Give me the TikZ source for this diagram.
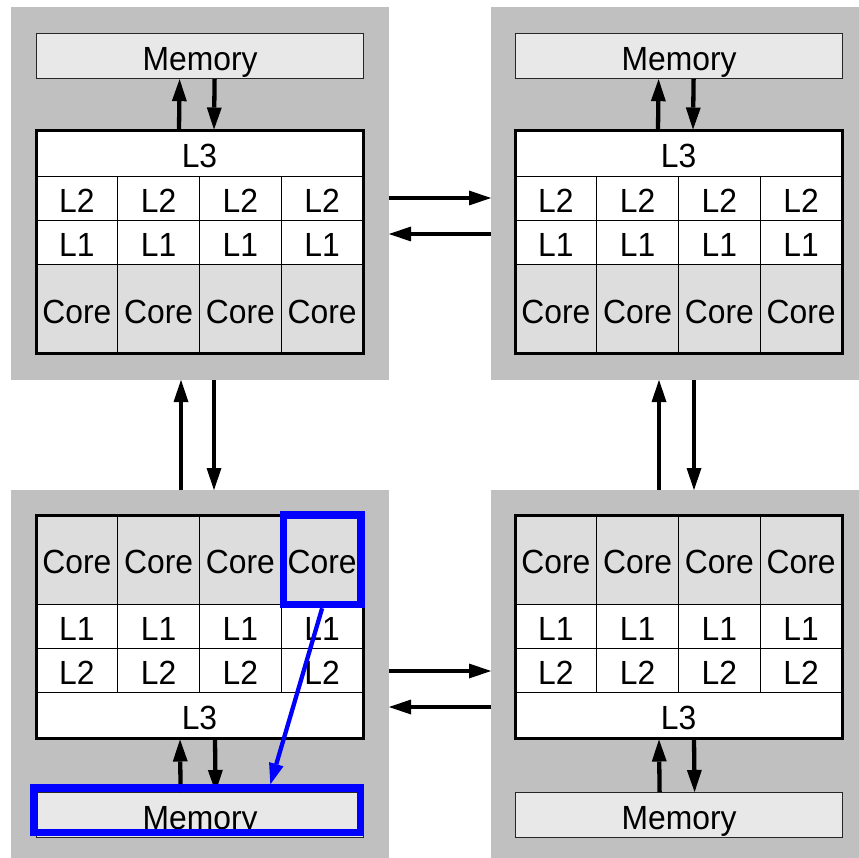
\documentclass[tikz,border=0pt]{standalone}
\usepackage{fontspec}
\setmainfont{Liberation Sans}[FakeStretch=0.95]
\usetikzlibrary{arrows.meta,fit}
\definecolor{panelgray}{HTML}{C0C0C0}
\definecolor{coregray}{HTML}{DDDDDD}
\definecolor{memgray}{HTML}{E8E8E8}
\definecolor{hiblue}{HTML}{0000FF}

% One processor's cache stack: L3 row, L2 row, L1 row and core row.
% #1 name, #2 left x, #3..#6 top y of the L3, L2, L1 and core rows.
\newcommand{\cpustack}[6]{%
  \node[widecell] (#1-l3) at (#2,#3) {L3};
  \foreach \k in {1,...,4}{%
    \node[cell] (#1-l2-\k) at ({#2+(\k-1)*81.75},#4) {L2};
    \node[cell] (#1-l1-\k) at ({#2+(\k-1)*81.75},#5) {L1};
    \node[corecell] (#1-core-\k) at ({#2+(\k-1)*81.75},#6) {Core};
  }
  \node[blockframe, fit=(#1-l3)(#1-core-1)(#1-core-4)] (#1-blk) {};
}

\begin{document}
\begin{tikzpicture}[x=1pt,y=-1pt,
  font=\fontsize{33.5}{40}\selectfont,
  panel/.style={fill=panelgray, draw=none, anchor=north west, inner sep=0pt, outer sep=0pt},
  cellbase/.style={draw=black, line width=0.8pt, anchor=north west, inner sep=0pt, outer sep=0pt,
    text height=28pt, text depth=0pt},
  cell/.style={cellbase, fill=white, minimum width=81.75pt, minimum height=44pt},
  widecell/.style={cellbase, fill=white, minimum width=327pt, minimum height=45.5pt},
  corecell/.style={cellbase, fill=coregray, minimum width=81.75pt, minimum height=89.5pt},
  blockframe/.style={draw=black, line width=3pt, inner sep=0pt},
  mem/.style={draw=black!85, fill=memgray, line width=1.2pt, anchor=north west,
    minimum width=327pt, minimum height=45pt, inner sep=0pt, text height=28pt, text depth=0pt},
  arr/.style={line width=4.3pt, -{Triangle[length=22pt,width=15pt,line width=0pt]}},
  hilite/.style={draw=hiblue, line width=7.5pt, inner sep=0pt},
  bluearr/.style={draw=hiblue, line width=4.3pt, -{Triangle[length=21pt,width=15pt,line width=0pt]}}
]
\useasboundingbox (0,0) rectangle (859,858);
\fill[white] (0,0) rectangle (859,858);

% the four grey processor panels
\node[panel, minimum width=378pt, minimum height=373pt] (TL-panel) at (11,7) {};
\node[panel, minimum width=368pt, minimum height=373pt] (TR-panel) at (491,7) {};
\node[panel, minimum width=378pt, minimum height=368pt] (BL-panel) at (11,490) {};
\node[panel, minimum width=368pt, minimum height=368pt] (BR-panel) at (491,490) {};

% memories
\node[mem] (TL-mem) at (36,33) {Memory};
\node[mem] (TR-mem) at (515,33) {Memory};
\node[mem] (BL-mem) at (36,792) {Memory};
\node[mem] (BR-mem) at (515,792) {Memory};

% cache stacks (top panels: L3 on top; bottom panels: cores on top)
\cpustack{TL}{36}{131}{176.5}{220.5}{264.5}
\cpustack{TR}{515}{131}{176.5}{220.5}{264.5}
\cpustack{BL}{36}{692.5}{648.5}{604.5}{515}
\cpustack{BR}{515}{692.5}{648.5}{604.5}{515}

% L3 <-> memory
\draw[arr] ([xshift=-20.5pt]TL-blk.north) -- ([xshift=-20.5pt]TL-mem.south);
\draw[arr] ([xshift=14.5pt]TL-mem.south) -- ([xshift=14.5pt]TL-blk.north);
\draw[arr] ([xshift=-20.5pt]TR-blk.north) -- ([xshift=-20.5pt]TR-mem.south);
\draw[arr] ([xshift=14.5pt]TR-mem.south) -- ([xshift=14.5pt]TR-blk.north);
\draw[arr] ([xshift=-19.5pt]BL-mem.north) -- ([xshift=-19.5pt]BL-blk.south);
\draw[arr] ([xshift=15.5pt]BL-blk.south) -- ([xshift=15.5pt]BL-mem.north);
\draw[arr] ([xshift=-19.5pt]BR-mem.north) -- ([xshift=-19.5pt]BR-blk.south);
\draw[arr] ([xshift=15.5pt]BR-blk.south) -- ([xshift=15.5pt]BR-mem.north);

% interconnect between panels
\draw[arr] ([yshift=-4.5pt]TL-panel.east) -- ([yshift=-4.5pt]TR-panel.west);
\draw[arr] ([yshift=-40.5pt]TR-panel.west) -- ([yshift=-40.5pt]TL-panel.east);
\draw[arr] ([yshift=3pt]BL-panel.east) -- ([yshift=3pt]BR-panel.west);
\draw[arr] ([yshift=-33pt]BR-panel.west) -- ([yshift=-33pt]BL-panel.east);
\draw[arr] ([xshift=-19pt]BL-panel.north) -- ([xshift=-19pt]TL-panel.south);
\draw[arr] ([xshift=14pt]TL-panel.south) -- ([xshift=14pt]BL-panel.north);
\draw[arr] ([xshift=-16pt]BR-panel.north) -- ([xshift=-16pt]TR-panel.south);
\draw[arr] ([xshift=19pt]TR-panel.south) -- ([xshift=19pt]BR-panel.north);

% highlighted core and its memory access path
\node[hilite, fit=(BL-core-4), inner xsep=-2pt, inner ysep=0pt] (hicore) {};
\node[hilite, minimum width=326.5pt, minimum height=44.5pt]
  (himem) at ([shift={(-2.75pt,4.75pt)}]BL-mem.center) {};
\draw[bluearr] (hicore.south) -- ([xshift=73pt]himem.north);
\end{tikzpicture}
\end{document}
